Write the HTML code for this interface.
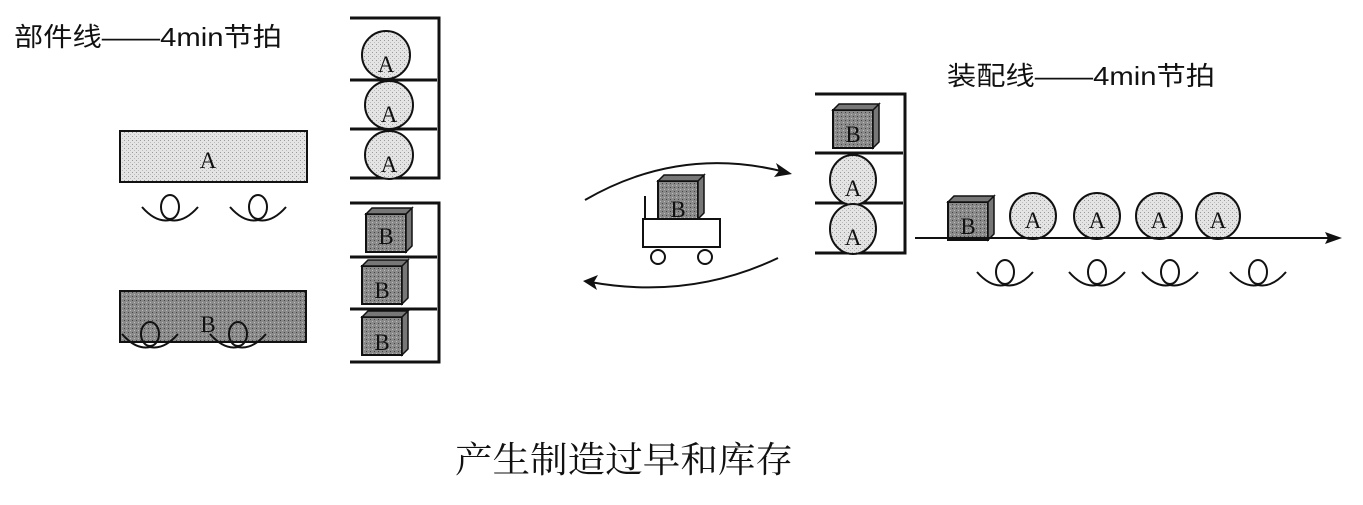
<!DOCTYPE html>
<html><head><meta charset="utf-8"><style>
body{margin:0;background:#fff;width:1363px;height:500px;overflow:hidden;font-family:"Liberation Serif","Noto Serif CJK SC",serif}
</style></head><body>
<svg width="1363" height="500" viewBox="0 0 1363 500" xmlns="http://www.w3.org/2000/svg" font-family="Liberation Serif, Noto Serif CJK SC, serif">
<defs>
<pattern id="lg" width="4" height="4" patternUnits="userSpaceOnUse"><rect width="4" height="4" fill="#e4e4e4"/><rect width="1" height="1" fill="#999"/><rect x="2" y="2" width="1" height="1" fill="#bbb"/></pattern>
<pattern id="dg" width="4" height="4" patternUnits="userSpaceOnUse"><rect width="4" height="4" fill="#8a8a8a"/><rect width="1" height="1" fill="#444"/><rect x="2" y="2" width="1" height="1" fill="#bbb"/></pattern>
<g id="op"><path d="M-28,-8 Q-14,8 0,5 Q14,8 28,-8" fill="none" stroke="#111" stroke-width="2"/><ellipse cx="0" cy="-8" rx="9" ry="12" fill="none" stroke="#111" stroke-width="2"/></g>
<g id="bx"><rect x="0" y="6" width="40" height="38" fill="url(#dg)" stroke="#111" stroke-width="2"/><path d="M0,6 L6,0 L46,0 L40,6 Z M40,6 L46,0 L46,38 L40,44 Z" fill="#777" stroke="#111" stroke-width="1.5"/></g>
</defs>
<g font-family="Liberation Sans, Noto Sans CJK SC, sans-serif" font-size="26" fill="#111">
<text x="14" y="46" textLength="268" lengthAdjust="spacingAndGlyphs">部件线——4min节拍</text>
<text x="947" y="85" textLength="268" lengthAdjust="spacingAndGlyphs">装配线——4min节拍</text>
</g>
<g stroke="#111" stroke-width="3" fill="none">
<path d="M350,18 H439 V178 H350 M350,80 H437 M350,129 H437"/>
<path d="M350,203 H439 V362 H350 M350,257 H437 M350,309 H437"/>
<path d="M815,94 H905 V253 H815 M815,153 H903 M815,203 H903"/>
</g>
<g stroke="#111" stroke-width="2" fill="url(#lg)">
<circle cx="386" cy="55" r="24"/><circle cx="389" cy="105" r="24"/><circle cx="389" cy="155" r="24"/>
<ellipse cx="853" cy="180" rx="23" ry="25"/><ellipse cx="853" cy="229" rx="23" ry="25"/>
<ellipse cx="1033" cy="216" rx="23" ry="23"/><ellipse cx="1097" cy="216" rx="23" ry="23"/><ellipse cx="1159" cy="216" rx="23" ry="23"/><ellipse cx="1218" cy="216" rx="22" ry="23"/>
<rect x="120" y="131" width="187" height="51"/>
</g>
<rect x="120" y="291" width="186" height="51" fill="url(#dg)" stroke="#111" stroke-width="2"/>
<use href="#bx" x="366" y="208"/><use href="#bx" x="362" y="260"/><use href="#bx" x="362" y="311"/>
<use href="#bx" x="833" y="104"/>
<use href="#bx" x="948" y="196"/>
<use href="#bx" x="658" y="175"/>
<use href="#op" x="170" y="215"/><use href="#op" x="258" y="215"/>
<use href="#op" x="150" y="342"/><use href="#op" x="238" y="342"/>
<use href="#op" x="1005" y="280"/><use href="#op" x="1097" y="280"/><use href="#op" x="1170" y="280"/><use href="#op" x="1258" y="280"/>
<g font-size="23" fill="#111" text-anchor="middle">
<text x="386" y="72">A</text><text x="389" y="122">A</text><text x="389" y="172">A</text>
<text x="208" y="168">A</text><text x="208" y="332">B</text>
<text x="386" y="244">B</text><text x="382" y="298">B</text><text x="382" y="350">B</text>
<text x="853" y="196">A</text><text x="853" y="245">A</text><text x="853" y="142">B</text>
<text x="968" y="234">B</text><text x="678" y="217">B</text>
<text x="1033" y="228">A</text><text x="1097" y="228">A</text><text x="1159" y="228">A</text><text x="1218" y="228">A</text>
</g>
<g stroke="#111" stroke-width="2" fill="none">
<path d="M915,238 H1330"/>
<rect x="643" y="219" width="77" height="28" fill="#fff"/>
<path d="M645,219 V196"/>
<circle cx="658" cy="257" r="7" fill="#fff"/><circle cx="705" cy="257" r="7" fill="#fff"/>
<path d="M585,200 Q680,145 785,172"/>
<path d="M778,258 Q690,300 590,282"/>
</g>
<path d="M1342,238 L1325,232 L1328,238 L1325,244 Z" fill="#111"/>
<path d="M792,174 L776,163 L779,171 L774,177 Z" fill="#111"/>
<path d="M583,281 L598,275 L594,282 L597,290 Z" fill="#111"/>
<text x="455" y="472" textLength="338" lengthAdjust="spacingAndGlyphs" font-size="36" fill="#111" font-family="Liberation Serif, Noto Serif CJK SC, serif">产生制造过早和库存</text>
</svg>
</body></html>
